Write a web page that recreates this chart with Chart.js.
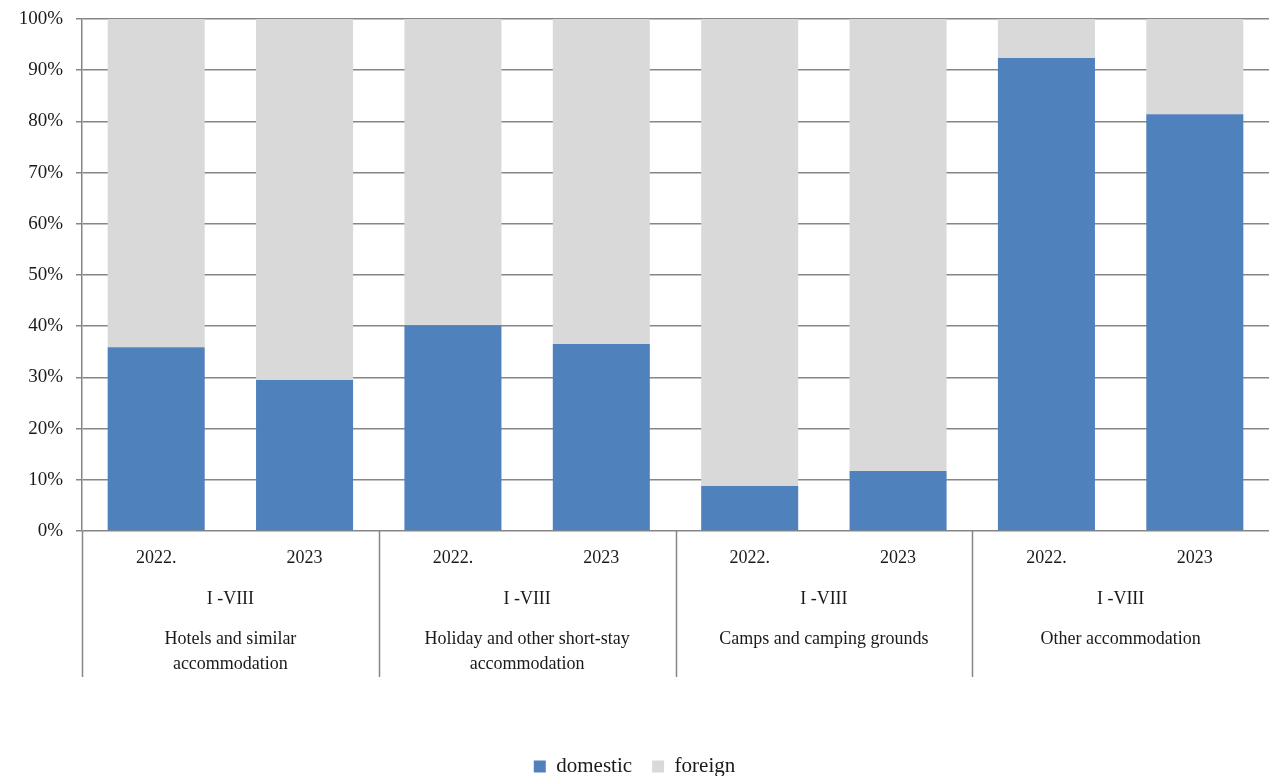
<!DOCTYPE html>
<html>
<head>
<meta charset="utf-8">
<script src="https://cdn.jsdelivr.net/npm/chart.js@4"></script>
<style>
  html, body { margin: 0; padding: 0; background: #fff; }
  #wrap { width: 1269px; height: 776px; }
</style>
</head>
<body>
<div id="wrap"><canvas id="myChart" width="1269" height="776"></canvas></div>
<script>
const years = ["2022.", "2023", "2022.", "2023", "2022.", "2023", "2022.", "2023"];
const period = "I -VIII";
const groups = [
  ["Hotels and similar", "accommodation"],
  ["Holiday and other short-stay", "accommodation"],
  ["Camps and camping grounds"],
  ["Other accommodation"],
];
const domestic = [35.9, 29.5, 40.2, 36.5, 8.8, 11.7, 92.4, 81.4];
const foreign = [64.1, 70.5, 59.8, 63.5, 91.2, 88.3, 7.6, 18.6];
const yTicks = [0, 10, 20, 30, 40, 50, 60, 70, 80, 90, 100];

const FONT = "'Liberation Serif', 'Times New Roman', serif";
const GRID = "#868686";

const multiLevelLabels = {
  id: "multiLevelLabels",
  afterDraw(chart) {
    const { ctx } = chart;
    const x = chart.scales.x;
    const top = x.top;
    const step = (x.right - x.left) / years.length;
    ctx.save();
    ctx.fillStyle = "#1a1a1a";
    ctx.font = `18px ${FONT}`;
    ctx.textAlign = "center";
    ctx.textBaseline = "middle";
    years.forEach((y, i) => {
      ctx.fillText(y, x.getPixelForValue(i), top + 27);
    });
    groups.forEach((lines, g) => {
      const cx = (x.getPixelForValue(g * 2) + x.getPixelForValue(g * 2 + 1)) / 2;
      ctx.fillText(period, cx, top + 68);
      lines.forEach((line, j) => {
        ctx.fillText(line, cx, top + 108 + j * 25);
      });
    });
    ctx.strokeStyle = GRID;
    ctx.lineWidth = 1.5;
    for (let k = 0; k < years.length; k += 2) {
      const lx = Math.round(x.left + k * step) + 0.5;
      ctx.beginPath();
      ctx.moveTo(lx, top);
      ctx.lineTo(lx, top + 146);
      ctx.stroke();
    }
    ctx.restore();
  },
};

const ctx = document.getElementById("myChart").getContext("2d");
const myChart = new Chart(ctx, {
  type: "bar",
  data: {
    labels: years,
    datasets: [
      {
        label: "domestic",
        data: domestic,
        backgroundColor: "#4F81BD",
        borderWidth: 0,
      },
      {
        label: "foreign",
        data: foreign,
        backgroundColor: "#D9D9D9",
        borderWidth: 0,
      },
    ],
  },
  options: {
    responsive: false,
    animation: false,
    layout: { padding: { top: 19, right: 0, left: 0, bottom: -11 } },
    datasets: { bar: { categoryPercentage: 0.654, barPercentage: 1 } },
    plugins: {
      legend: {
        position: "bottom",
        labels: {
          color: "#1a1a1a",
          font: { family: FONT, size: 21 },
          boxWidth: 12,
          boxHeight: 12,
          padding: 20,
        },
      },
      tooltip: { enabled: false },
    },
    scales: {
      x: {
        stacked: true,
        grid: { display: false },
        border: { display: false },
        ticks: { display: false },
        afterFit: (scale) => { scale.height = 205; },
      },
      y: {
        stacked: true,
        min: 0,
        max: 100,
        afterFit: (scale) => {
          scale.width = 82;
          scale.paddingTop = 0;
          scale.paddingBottom = 0;
        },
        afterBuildTicks: (scale) => { scale.ticks = yTicks.map((v) => ({ value: v })); },
        ticks: {
          color: "#1a1a1a",
          font: { family: FONT, size: 19 },
          padding: 13,
          callback: (v) => v + "%",
        },
        grid: { color: GRID, lineWidth: 1.5, tickLength: 6 },
        border: { color: GRID, width: 1.5 },
      },
    },
  },
  plugins: [multiLevelLabels],
});
</script>
</body>
</html>
